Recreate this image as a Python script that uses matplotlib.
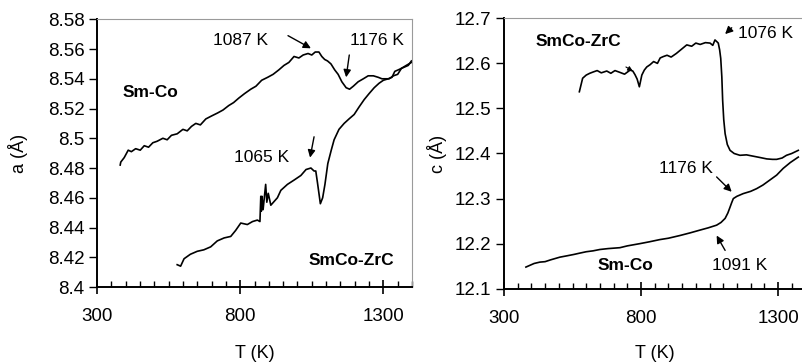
import matplotlib
matplotlib.use("Agg")
import matplotlib.pyplot as plt
from matplotlib.ticker import MultipleLocator, FuncFormatter

plt.rcParams['font.family'] = ['Liberation Sans', 'DejaVu Sans']

# ---------------- data: lattice parameter a ----------------
T_a_smco = [381, 383, 395, 409, 420, 435, 451, 465, 480, 495, 510, 530, 545, 560, 580,
            600, 615, 630, 645, 661, 680, 700, 721, 740, 760, 777, 795, 815, 837, 855,
            875, 896, 915, 935, 953, 970, 988, 1005, 1020, 1037, 1050, 1062, 1075, 1085,
            1095, 1105, 1117, 1130, 1142, 1155, 1170, 1182, 1195, 1212, 1230, 1247, 1265,
            1282, 1295, 1305, 1320, 1335, 1350, 1363, 1380, 1398]
a_smco = [8.482, 8.484, 8.487, 8.492, 8.491, 8.493, 8.492, 8.495, 8.494, 8.497, 8.498,
          8.500, 8.499, 8.502, 8.503, 8.506, 8.505, 8.508, 8.510, 8.509, 8.513, 8.515,
          8.517, 8.519, 8.522, 8.524, 8.527, 8.530, 8.533, 8.535, 8.539, 8.541, 8.543,
          8.546, 8.549, 8.551, 8.555, 8.554, 8.556, 8.557, 8.556, 8.558, 8.558, 8.555,
          8.553, 8.552, 8.550, 8.546, 8.543, 8.538, 8.534, 8.533, 8.535, 8.538, 8.540,
          8.542, 8.542, 8.541, 8.540, 8.540, 8.540, 8.542, 8.543, 8.547, 8.549, 8.551]

T_a_zrc = [580, 592, 604, 626, 650, 673, 697, 720, 744, 767, 784, 802, 825, 843, 860,
           869, 872, 874, 876, 880, 889, 893, 898, 907, 930, 942, 965, 989, 1012, 1030,
           1047, 1058, 1064, 1070, 1080, 1088, 1096, 1106, 1118, 1128, 1145, 1163, 1180,
           1198, 1215, 1233, 1250, 1268, 1285, 1300, 1317, 1330, 1340, 1352, 1363, 1375,
           1387, 1398]
a_zrc = [8.415, 8.414, 8.419, 8.422, 8.424, 8.425, 8.427, 8.431, 8.433, 8.434, 8.438,
         8.443, 8.442, 8.444, 8.445, 8.444, 8.461, 8.451, 8.461, 8.452, 8.469, 8.457,
         8.463, 8.455, 8.460, 8.465, 8.469, 8.472, 8.475, 8.479, 8.480, 8.478, 8.478,
         8.470, 8.456, 8.460, 8.469, 8.483, 8.492, 8.499, 8.506, 8.510, 8.513, 8.516,
         8.521, 8.526, 8.530, 8.534, 8.537, 8.539, 8.540, 8.541, 8.545, 8.546, 8.547,
         8.548, 8.549, 8.552]

# ---------------- data: lattice parameter c ----------------
T_c_zrc = [575, 587, 600, 613, 626, 640, 655, 675, 690, 705, 723, 740, 760, 770, 778,
           786, 794, 803, 812, 821, 833, 846, 860, 870, 881, 895, 910, 929, 945, 967,
           985, 1000, 1016, 1035, 1052, 1062, 1070, 1077, 1082, 1087, 1091, 1095, 1098,
           1102, 1107, 1115, 1125, 1140, 1161, 1185, 1210, 1235, 1259, 1280, 1295, 1315,
           1331, 1350, 1374]
c_zrc = [12.537, 12.567, 12.574, 12.578, 12.581, 12.584, 12.579, 12.583, 12.578, 12.584,
         12.580, 12.576, 12.585, 12.583, 12.575, 12.565, 12.548, 12.574, 12.585, 12.592,
         12.597, 12.604, 12.600, 12.612, 12.615, 12.618, 12.614, 12.622, 12.630, 12.641,
         12.638, 12.645, 12.642, 12.646, 12.645, 12.640, 12.652, 12.648, 12.645, 12.630,
         12.611, 12.570, 12.518, 12.475, 12.444, 12.420, 12.407, 12.400, 12.396, 12.397,
         12.394, 12.391, 12.388, 12.387, 12.387, 12.390, 12.396, 12.400, 12.407]

T_c_smco = [380, 395, 410, 431, 450, 470, 504, 530, 555, 577, 600, 625, 650, 680, 723,
            750, 796, 830, 869, 900, 942, 980, 1015, 1045, 1076, 1092, 1107, 1117, 1125,
            1131, 1137, 1150, 1173, 1200, 1222, 1245, 1270, 1295, 1319, 1345, 1374]
c_smco = [12.148, 12.152, 12.156, 12.159, 12.160, 12.164, 12.170, 12.173, 12.176, 12.179,
          12.182, 12.184, 12.187, 12.189, 12.191, 12.195, 12.200, 12.204, 12.209, 12.212,
          12.218, 12.224, 12.230, 12.235, 12.241, 12.247, 12.256, 12.268, 12.281, 12.291,
          12.300, 12.305, 12.311, 12.316, 12.322, 12.330, 12.341, 12.352, 12.367, 12.380,
          12.392]

x_ticks = [300, 800, 1300]
a_ticks = [8.40, 8.42, 8.44, 8.46, 8.48, 8.50, 8.52, 8.54, 8.56, 8.58]
c_ticks = [12.1, 12.2, 12.3, 12.4, 12.5, 12.6, 12.7]

W, H = 802, 364
fig = plt.figure(figsize=(W / 100, H / 100), dpi=100)

def px_axes(x0, y0, x1, y1):
    return fig.add_axes([x0 / W, 1 - y1 / H, (x1 - x0) / W, (y1 - y0) / H])

axL = px_axes(97, 19.3, 412, 287)
axR = px_axes(504, 18.3, 805.4, 288.7)

fmt = FuncFormatter(lambda v, p: f'{v:g}')

def style(ax, ylim, yticks, ylabel, ylabel_x, xlabel_y, right_visible=True):
    ax.set_xlim(300, 1400)
    ax.set_ylim(*ylim)
    ax.set_xticks(x_ticks)
    ax.set_yticks(yticks)
    ax.yaxis.set_major_formatter(fmt)
    ax.xaxis.set_minor_locator(MultipleLocator(50))
    ax.tick_params(axis='x', which='major', direction='inout', length=10, width=1.2,
                   labelsize=13.5, pad=10)
    ax.tick_params(axis='x', which='minor', direction='in', length=4, width=1.0)
    ax.tick_params(axis='y', which='major', direction='out', length=6, width=1.0,
                   labelsize=13.5, pad=3)
    for s in ('left', 'bottom'):
        ax.spines[s].set_linewidth(1.4)
        ax.spines[s].set_color('black')
    for s in ('top', 'right'):
        ax.spines[s].set_linewidth(0.8)
        ax.spines[s].set_color('#9a9a9a')
    ax.spines['right'].set_visible(right_visible)
    ax.set_xlabel('T (K)', fontsize=13)
    ax.xaxis.label.set_va('center')
    ax.xaxis.set_label_coords(0.5, xlabel_y)
    ax.set_ylabel(ylabel, fontsize=13)
    ax.yaxis.label.set_va('center')
    ax.yaxis.set_label_coords(ylabel_x, 0.5)

# ---- left panel ----
axL.plot(T_a_smco, a_smco, color='black', lw=1.2)
axL.plot(T_a_zrc, a_zrc, color='black', lw=1.2)
style(axL, (8.40, 8.58), a_ticks, 'a (Å)', -0.251, -(353 - 287) / 267.7)

arrow = dict(arrowstyle='-|>', color='black', lw=1.0, mutation_scale=11,
             shrinkA=0, shrinkB=0)
axL.text(486, 8.531, 'Sm-Co', fontsize=12.5, fontweight='bold', ha='center', va='center')
axL.text(1188, 8.418, 'SmCo-ZrC', fontsize=12.5, fontweight='bold', ha='center', va='center')
axL.text(802, 8.566, '1087 K', fontsize=12.5, ha='center', va='center')
axL.annotate('', xy=(1047, 8.5605), xytext=(967, 8.569), arrowprops=arrow)
axL.text(1279, 8.566, '1176 K', fontsize=12.5, ha='center', va='center', clip_on=False)
axL.annotate('', xy=(1170, 8.541), xytext=(1181, 8.556), arrowprops=arrow)
axL.text(875, 8.487, '1065 K', fontsize=12.5, ha='center', va='center')
axL.annotate('', xy=(1044, 8.487), xytext=(1058, 8.501), arrowprops=arrow)

# ---- right panel ----
axR.plot(T_c_zrc, c_zrc, color='black', lw=1.2)
axR.plot(T_c_smco, c_smco, color='black', lw=1.2)
style(axR, (12.1, 12.7), c_ticks, 'c (Å)', -0.222, -(353 - 288.7) / 270.4,
      right_visible=False)

axR.text(570, 12.648, 'SmCo-ZrC', fontsize=12.5, fontweight='bold', ha='center', va='center')
axR.text(1256, 12.667, '1076 K', fontsize=12.5, ha='center', va='center')
axR.annotate('', xy=(1107, 12.665), xytext=(1131, 12.679), arrowprops=arrow)
axR.text(964, 12.367, '1176 K', fontsize=12.5, ha='center', va='center')
axR.annotate('', xy=(1131, 12.315), xytext=(1076, 12.348), arrowprops=arrow)
axR.text(1161, 12.152, '1091 K', fontsize=12.5, ha='center', va='center')
axR.annotate('', xy=(1076, 12.218), xytext=(1107, 12.185), arrowprops=arrow)
axR.text(745, 12.152, 'Sm-Co', fontsize=12.5, fontweight='bold', ha='center', va='center')
axR.annotate('', xy=(770, 12.583), xytext=(745, 12.592),
             arrowprops=dict(arrowstyle='-|>', color='black', lw=0.8, mutation_scale=7,
                             shrinkA=0, shrinkB=0))

fig.savefig('out.png', dpi=100)
